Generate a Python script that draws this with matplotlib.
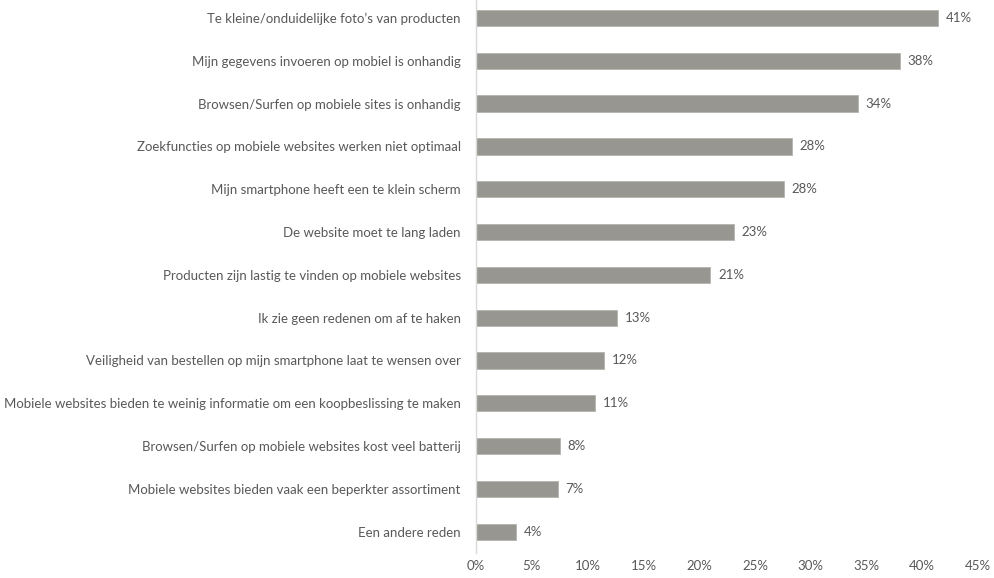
import matplotlib
matplotlib.use("Agg")
import matplotlib.pyplot as plt
from matplotlib.ticker import FuncFormatter

categories = [
    "Te kleine/onduidelijke foto’s van producten",
    "Mijn gegevens invoeren op mobiel is onhandig",
    "Browsen/Surfen op mobiele sites is onhandig",
    "Zoekfuncties op mobiele websites werken niet optimaal",
    "Mijn smartphone heeft een te klein scherm",
    "De website moet te lang laden",
    "Producten zijn lastig te vinden op mobiele websites",
    "Ik zie geen redenen om af te haken",
    "Veiligheid van bestellen op mijn smartphone laat te wensen over",
    "Mobiele websites bieden te weinig informatie om een koopbeslissing te maken",
    "Browsen/Surfen op mobiele websites kost veel batterij",
    "Mobiele websites bieden vaak een beperkter assortiment",
    "Een andere reden",
]
values = [41.4, 38.0, 34.2, 28.3, 27.6, 23.1, 21.0, 12.6, 11.5, 10.7, 7.5, 7.3, 3.6]
value_labels = ["41%", "38%", "34%", "28%", "28%", "23%", "21%", "13%", "12%", "11%", "8%", "7%", "4%"]
xticks = [0, 5, 10, 15, 20, 25, 30, 35, 40, 45]

plt.rcParams['font.family'] = ['Lato', 'DejaVu Sans']
text_color = "#595959"

fig = plt.figure(figsize=(9.94, 5.78), dpi=100)
ax = fig.add_axes([0.479, 0.043, 0.505, 0.963])

n = len(categories)
ypos = list(range(n - 1, -1, -1))
ax.barh(ypos, values, height=0.38, color="#979690", edgecolor="#b5b4ae", linewidth=0.6, zorder=2)
for y, v, lab in zip(ypos, values, value_labels):
    ax.text(v + 0.7, y, lab, va="center", ha="left", fontsize=9.5, color=text_color)

ax.set_yticks(ypos)
ax.set_yticklabels(categories, fontsize=9.5, color=text_color)
ax.set_xlim(0, 45)
ax.set_ylim(-0.5, n - 0.5)
ax.set_xticks(xticks)
ax.xaxis.set_major_formatter(FuncFormatter(lambda x, p: f"{x:.0f}%"))
ax.tick_params(axis="x", length=0, labelsize=9.5, labelcolor=text_color, pad=5)
ax.tick_params(axis="y", length=0, pad=11)
for s in ["top", "right", "bottom"]:
    ax.spines[s].set_visible(False)
ax.spines["left"].set_color("#d9d9d9")
ax.spines["left"].set_linewidth(1.0)

fig.savefig("out.png", dpi=100)
